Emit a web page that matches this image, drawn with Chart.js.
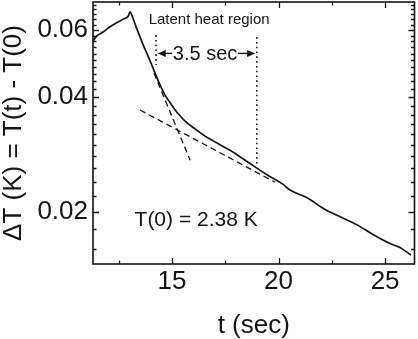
<!DOCTYPE html>
<html>
<head>
<meta charset="utf-8">
<script src="https://cdn.jsdelivr.net/npm/chart.js@4/dist/chart.umd.min.js"></script>
<style>
  html, body { margin: 0; padding: 0; background: #fff; }
  #wrap { width: 418px; height: 339px; }
</style>
</head>
<body>
<div id="wrap"><canvas id="chart" width="418" height="339"></canvas></div>
<script>
// ----- DATA -----

// measured cooling curve: time (s) and ΔT (K)
const timeSec = [11.30, 11.47, 11.78, 12.09, 12.40, 12.71, 12.95, 13.03, 13.11, 13.34, 13.65, 13.97,
                 14.20, 14.44, 14.67, 14.99, 15.30, 15.61, 16.08, 16.55, 16.93, 17.72, 18.52, 19.51,
                 20.21, 20.54, 21.32, 22.10, 22.89, 23.67, 24.45, 25.23, 25.70, 26.21];
const deltaT  = [0.0562, 0.0579, 0.0594, 0.0612, 0.0627, 0.0641, 0.0653, 0.0670, 0.0657, 0.0606, 0.0548, 0.0498,
                 0.0463, 0.0430, 0.0405, 0.0381, 0.0361, 0.0346, 0.0330, 0.0316, 0.0307, 0.0290, 0.0271, 0.0249,
                 0.0236, 0.0228, 0.0218, 0.0204, 0.0194, 0.0185, 0.0174, 0.0165, 0.0161, 0.0154];

// dashed fit lines (two end points each)
const steepFitT  = [14.15, 15.85];
const steepFitV  = [0.0463, 0.0273];
const slowFitT   = [13.50, 19.84];
const slowFitV   = [0.0370, 0.0239];

// dotted markers bounding the latent heat region
const regionStartT = 14.25;
const regionStartV = [0.0582, 0.0486];
const regionEndT   = 18.98;
const regionEndV   = [0.0575, 0.0265];

// axis ticks
const xTicks = [15, 20, 25];
const xMinorTicks = [12.5, 17.5, 22.5];
const yTicks = [0.02, 0.04, 0.06];
const yMinorTicks = [];
for (let k = 8; k <= 35; k++) {
    const v = +(k * 0.002).toFixed(3);
    if (!yTicks.includes(v)) yMinorTicks.push(v);
}

const xRange = [11.29, 26.38];
const yRange = [0.01458, 0.0711];

const FONT = '"Liberation Sans", Arial, Helvetica, sans-serif';
const INK = '#151515';

/**
 * Frame, inward tick marks, arrows and text notes drawn on top of the plot
 */
const decorations = {
    id: 'decorations',
    afterDatasetsDraw(chart) {
        const { ctx, chartArea: a, scales: { x, y } } = chart;
        ctx.save();
        ctx.strokeStyle = INK;
        ctx.fillStyle = INK;

        // frame
        ctx.lineWidth = 1.6;
        ctx.strokeRect(a.left, a.top, a.right - a.left, a.bottom - a.top);

        // ticks on all four sides, pointing inwards
        ctx.lineWidth = 1.3;
        function xTick(t, len) {
            const px = Math.round(x.getPixelForValue(t)) + 0.5;
            ctx.beginPath();
            ctx.moveTo(px, a.bottom); ctx.lineTo(px, a.bottom - len);
            ctx.moveTo(px, a.top); ctx.lineTo(px, a.top + len);
            ctx.stroke();
        }
        function yTick(v, len) {
            const py = Math.round(y.getPixelForValue(v)) + 0.5;
            if (py < a.top + 2 || py > a.bottom - 2) return;
            ctx.beginPath();
            ctx.moveTo(a.left, py); ctx.lineTo(a.left + len, py);
            ctx.moveTo(a.right, py); ctx.lineTo(a.right - len, py);
            ctx.stroke();
        }
        xTicks.forEach(t => xTick(t, 6));
        xMinorTicks.forEach(t => xTick(t, 3.5));
        yTicks.forEach(v => yTick(v, 6));
        yMinorTicks.forEach(v => yTick(v, 3.5));

        // "3.5 sec" arrows
        const arrowV = 0.0521;
        const ay = y.getPixelForValue(arrowV);
        function arrow(fromT, toT) {
            const x0 = x.getPixelForValue(fromT);
            const x1 = x.getPixelForValue(toT);
            const dir = Math.sign(x1 - x0);
            ctx.lineWidth = 1.4;
            ctx.beginPath();
            ctx.moveTo(x0, ay); ctx.lineTo(x1 - dir * 5, ay);
            ctx.stroke();
            ctx.beginPath();
            ctx.moveTo(x1, ay);
            ctx.lineTo(x1 - dir * 8, ay - 3.5);
            ctx.lineTo(x1 - dir * 8, ay + 3.5);
            ctx.closePath();
            ctx.fill();
        }
        arrow(15.0, regionStartT + 0.08);
        arrow(18.10, regionEndT - 0.08);

        // text notes
        ctx.textAlign = 'center';
        ctx.textBaseline = 'middle';
        ctx.font = '15px ' + FONT;
        ctx.fillText('Latent heat region', x.getPixelForValue(16.74), y.getPixelForValue(0.0637));
        ctx.font = '20px ' + FONT;
        ctx.fillText('3.5 sec', x.getPixelForValue(16.55), ay + 1);
        ctx.font = '21px ' + FONT;
        ctx.fillText('T(0) = 2.38 K', x.getPixelForValue(16.13), y.getPixelForValue(0.01903));

        ctx.restore();
    }
};

function toPoints(ts, vs) {
    return ts.map((t, i) => ({ x: t, y: vs[i] }));
}

const ctx = document.getElementById('chart');
new Chart(ctx, {
    type: 'line',
    data: {
        datasets: [
            {
                label: 'ΔT',
                data: toPoints(timeSec, deltaT),
                borderColor: INK,
                borderWidth: 1.7,
                pointRadius: 0,
                cubicInterpolationMode: 'monotone'
            },
            {
                label: 'fit 1',
                data: toPoints(steepFitT, steepFitV),
                borderColor: INK,
                borderWidth: 1.3,
                borderDash: [6, 4],
                pointRadius: 0
            },
            {
                label: 'fit 2',
                data: toPoints(slowFitT, slowFitV),
                borderColor: INK,
                borderWidth: 1.3,
                borderDash: [6, 4],
                pointRadius: 0
            },
            {
                label: 'start',
                data: toPoints([regionStartT, regionStartT], regionStartV),
                borderColor: INK,
                borderWidth: 1.6,
                borderDash: [1.6, 3.2],
                pointRadius: 0
            },
            {
                label: 'end',
                data: toPoints([regionEndT, regionEndT], regionEndV),
                borderColor: INK,
                borderWidth: 1.6,
                borderDash: [1.6, 3.2],
                pointRadius: 0
            }
        ]
    },
    options: {
        responsive: false,
        animation: false,
        layout: { padding: { top: 2, right: 3.5, left: 0, bottom: 0 } },
        plugins: {
            legend: { display: false },
            tooltip: { enabled: false }
        },
        scales: {
            x: {
                type: 'linear',
                min: xRange[0],
                max: xRange[1],
                afterBuildTicks: scale => { scale.ticks = xTicks.map(v => ({ value: v })); },
                afterFit: scale => {
                    scale.height = 75;
                    scale.paddingLeft = 0;
                    scale.paddingRight = 0;
                },
                grid: { display: false, drawTicks: false },
                border: { display: false },
                ticks: {
                    color: INK,
                    padding: 5,
                    font: { family: FONT, size: 26, lineHeight: 1 },
                    maxRotation: 0,
                    callback: v => String(v)
                },
                title: {
                    display: true,
                    text: 't (sec)',
                    color: INK,
                    padding: { top: 0, bottom: 0 },
                    font: { family: FONT, size: 26, lineHeight: 1 }
                }
            },
            y: {
                type: 'logarithmic',
                min: yRange[0],
                max: yRange[1],
                afterBuildTicks: scale => { scale.ticks = yTicks.map(v => ({ value: v })); },
                afterFit: scale => {
                    scale.width = 93;
                    scale.paddingTop = 0;
                    scale.paddingBottom = 0;
                },
                grid: { display: false, drawTicks: false },
                border: { display: false },
                ticks: {
                    color: INK,
                    padding: 5,
                    font: { family: FONT, size: 26, lineHeight: 1 },
                    callback: v => Number(v).toFixed(2)
                },
                title: {
                    display: true,
                    text: 'ΔT (K) = T(t) - T(0)',
                    color: INK,
                    padding: { top: 1, bottom: 0 },
                    font: { family: FONT, size: 26, lineHeight: 1 }
                }
            }
        }
    },
    plugins: [decorations]
});
</script>
</body>
</html>
